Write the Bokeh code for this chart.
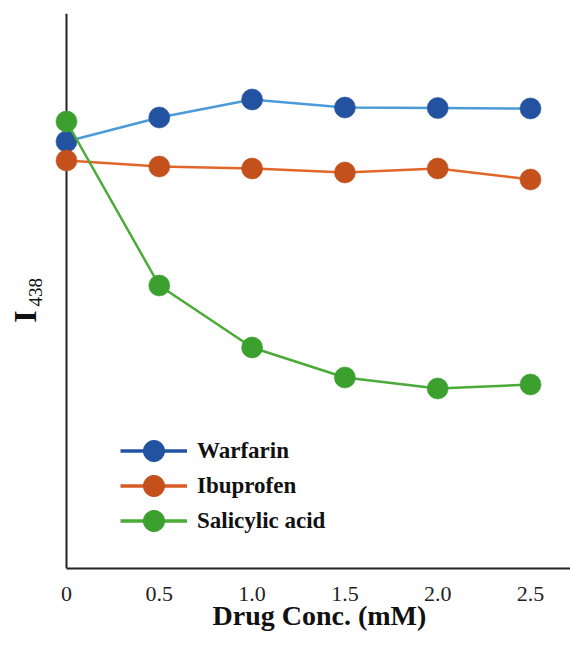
import math
from bokeh.plotting import figure
from bokeh.models import Span, Label, Legend, LegendItem, FixedTicker, Title
from bokeh.embed import file_html
from bokeh.resources import INLINE

conc = [0, 0.5, 1.0, 1.5, 2.0, 2.5]
tick_labels = {0: "0", 0.5: "0.5", 1: "1.0", 1.5: "1.5", 2: "2.0", 2.5: "2.5"}
warfarin = [427, 451, 469, 461, 460.5, 460]
ibuprofen = [408, 402, 400, 396, 400, 389]
salicylic = [447, 283, 221, 191, 180, 184]

series = [
    ("Warfarin", warfarin, "#4A9BD6", "#2353A0", "#2353A0"),
    ("Ibuprofen", ibuprofen, "#E2662A", "#C4501C", "#D85A24"),
    ("Salicylic acid", salicylic, "#4BAA38", "#3BA02E", "#4BAA38"),
]
legend_rows_y = [91, 56, 21]

FONT = "Liberation Serif"
X0, X1 = -0.3017, 2.7155

p = figure(width=570, height=647, output_backend="svg", toolbar_location=None,
           x_range=(X0, X1), y_range=(0, 555),
           min_border_left=10, min_border_right=0, min_border_top=13, min_border_bottom=79)
p.outline_line_color = None
p.grid.visible = False
p.background_fill_color = "white"

p.yaxis.visible = False

xa = p.xaxis[0]
xa.bounds = (0, X1)
xa.ticker = FixedTicker(ticks=conc)
xa.major_label_overrides = tick_labels
xa.major_tick_line_color = None
xa.minor_tick_line_color = None
xa.major_tick_out = 0
xa.major_label_standoff = 18
xa.major_label_text_font = FONT
xa.major_label_text_font_size = "22px"
xa.major_label_text_color = "#222222"
xa.axis_line_color = "#222222"
xa.axis_line_width = 2

p.add_layout(Title(text="Drug Conc. (mM)", align="left", offset=202, standoff=-11,
                   text_font=FONT, text_font_style="bold", text_font_size="28px",
                   text_color="#111111"), "below")

yline = Span(location=0, dimension="height", line_color="#222222", line_width=2, level="underlay")
p.add_layout(yline)

for name, vals, lc, mc, _ in series:
    p.line(conc, vals, line_color=lc, line_width=2.5)
    p.scatter(conc, vals, size=21, fill_color=mc, line_color=mc, line_alpha=0.6)

nan = float("nan")
for (name, vals, lc, mc, legc), ly in zip(series, legend_rows_y):
    lr = p.line([nan], [nan], line_color=legc, line_width=3.5)
    sr = p.scatter([nan], [nan], size=21, fill_color=mc, line_color=mc)
    legend = Legend(items=[LegendItem(label=name, renderers=[lr, sr])],
                    location=(110, ly), orientation="vertical",
                    border_line_color=None, background_fill_alpha=0,
                    glyph_width=67, glyph_height=53, label_height=53,
                    spacing=0, padding=0, margin=0, label_standoff=10,
                    label_text_font=FONT, label_text_font_style="bold",
                    label_text_font_size="23px", label_text_color="#111111")
    p.add_layout(legend, "center")

p.add_layout(Label(x=-0.221, y=252, text="I", angle=math.pi / 2,
                   text_font=FONT, text_font_style="bold", text_font_size="32px",
                   text_align="center", text_baseline="alphabetic", text_color="#111111"))
p.add_layout(Label(x=-0.167, y=262, text="438", angle=math.pi / 2,
                   text_font=FONT, text_font_size="19px",
                   text_align="left", text_baseline="alphabetic", text_color="#111111"))

open("out.html", "w").write(file_html(p, INLINE))
